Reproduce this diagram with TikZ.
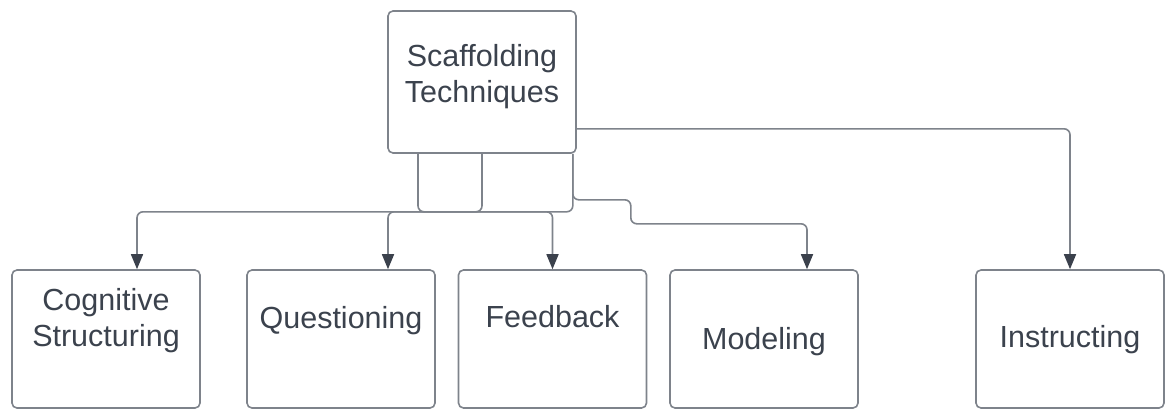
\documentclass[tikz,border=0pt]{standalone}
\usepackage{fontspec}
\setmainfont{Liberation Sans}
\usepackage{tikz}
\usetikzlibrary{arrows.meta,calc,positioning}
\definecolor{edgeG}{HTML}{7E838B}
\definecolor{tipD}{HTML}{3B414C}
\definecolor{txtD}{HTML}{3B424D}

\begin{document}
\begin{tikzpicture}[x=1pt,y=-1pt,
  box/.style={draw=edgeG,line width=1.6pt,rounded corners=5pt,minimum width=188pt,minimum height=138pt,inner sep=0pt},
  lbl/.style={text=txtD,font=\fontsize{30.5}{36}\selectfont,align=center,inner sep=0pt},
  conn/.style={draw=edgeG,line width=1.6pt,rounded corners=6pt,-{Triangle[width=12pt,length=15pt,color=tipD]}}]
\useasboundingbox (0,0) rectangle (1166,410);
% top box
\node[box,minimum height=142pt] (scaf) at (482,82) {};
\node[lbl,anchor=base] (scafT) at ([yshift=-92pt]scaf.north) {Scaffolding\\Techniques};
% bottom row
\node[box] (cog) at (106,339) {};
\node[box] (qst) at (341,339) {};
\node[box] (fdb) at (552.5,339) {};
\node[box] (mod) at (764,339) {};
\node[box] (ins) at (1070,339) {};
\node[lbl,anchor=base] (cogT) at ([yshift=-77pt]cog.north) {Cognitive\\Structuring};
\node[lbl,anchor=base] (qstT) at ([yshift=-59pt]qst.north) {Questioning};
\node[lbl,anchor=base] (fdbT) at ([yshift=-58pt]fdb.north) {Feedback};
\node[lbl,anchor=base] (modT) at ([yshift=-80pt]mod.north) {Modeling};
\node[lbl,anchor=base] (insT) at ([yshift=-78pt]ins.north) {Instructing};
% connectors
\draw[conn] ([xshift=-64pt]scaf.south) -- ++(0,58) -| (fdb.north);
\draw[conn] (scaf.south) -- ++(0,58) -| ([xshift=31pt]cog.north);
\draw[conn] ([xshift=-4pt]scaf.south east) -- ++(0,58) -| ([xshift=47pt]qst.north);
\draw[conn] ([xshift=-4pt]scaf.south east) -- ++(0,46) -- ++(58,0) -- ++(0,24) -| ([xshift=43pt]mod.north);
\draw[conn] ([yshift=25pt]scaf.south east) -| (ins.north);
\end{tikzpicture}
\end{document}
